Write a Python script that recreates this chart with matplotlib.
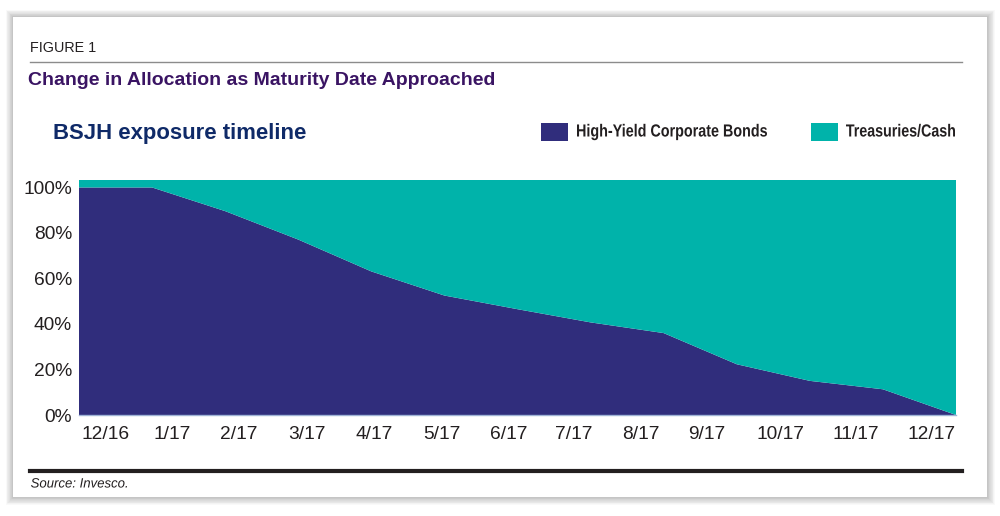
import matplotlib
matplotlib.use("Agg")
import matplotlib.pyplot as plt
from matplotlib.patches import Rectangle, PathPatch
from matplotlib.textpath import TextPath
from matplotlib.font_manager import FontProperties
from matplotlib.transforms import Affine2D

# ---- data ----
months = ["12/16", "1/17", "2/17", "3/17", "4/17", "5/17", "6/17",
          "7/17", "8/17", "9/17", "10/17", "11/17", "12/17"]
high_yield = [100, 100, 89.6, 77.1, 63.1, 52.5, 46.5, 40.7, 36.0, 22.3, 15.0, 11.3, 0]
treasuries = [3.5, 3.5, 13.9, 26.4, 40.4, 51.0, 57.0, 62.8, 67.5, 81.2, 88.5, 92.2, 103.5]
y_ticks = [0, 20, 40, 60, 80, 100]
y_tick_labels = ["0%", "20%", "40%", "60%", "80%", "100%"]
series_names = ["High-Yield Corporate Bonds", "Treasuries/Cash"]

# tick label placement (in month-index units), as in the original layout
tick_pos = [0.36, 1.27, 2.19, 3.12, 4.04, 4.96, 5.88, 6.77, 7.69, 8.59, 9.60, 10.63, 11.67]

NAVY = "#302d7c"
TEAL = "#00b3aa"
INK = "#231f20"

W, H = 1000, 516
fig = plt.figure(figsize=(W / 100, H / 100), dpi=100)
fig.patch.set_facecolor("white")

def fx(x):
    return x / W

def fy(y):
    return 1 - y / H

def narrow_text(s, x, y_base, width, font_px, weight="normal", style="normal"):
    """Text drawn as a horizontally condensed path (pixel coordinates)."""
    prop = FontProperties(family="Liberation Sans", weight=weight, style=style)
    tp = TextPath((0, 0), s, size=100, prop=prop)
    ext = tp.get_extents()
    sx = width / ext.width
    sy = font_px / 100.0
    tr = Affine2D().translate(-ext.x0, 0).scale(sx, sy).translate(x, H - y_base)
    patch = PathPatch(tr.transform_path(tp), facecolor=INK, edgecolor="none",
                      transform=None, zorder=4)
    fig.patches.append(patch)

# card shadow
for i in range(10, 0, -1):
    fig.patches.append(Rectangle((fx(13 - i * 0.7), fy(497 + i * 0.8)),
                                 fx(974 + i * 1.5), (480 + i * 1.5) / H,
                                 transform=fig.transFigure, facecolor="#000000",
                                 alpha=0.022, edgecolor="none", zorder=0))
fig.patches.append(Rectangle((fx(13), fy(497)), fx(974), 480 / H,
                             transform=fig.transFigure, facecolor="white",
                             edgecolor="none", zorder=1))

sans = ["Liberation Sans", "DejaVu Sans"]

fig.text(fx(30), fy(52), "FIGURE 1", fontsize=10.4, color=INK,
         family=sans, va="baseline", ha="left", zorder=3)
fig.add_artist(plt.Line2D([fx(30), fx(962)], [fy(61.5), fy(61.5)],
                          color="#8c8c8c", linewidth=1.0, zorder=3))
fig.text(fx(28), fy(85), "Change in Allocation as Maturity Date Approached",
         fontsize=14.0, fontweight="bold", color="#3a1463", family=sans,
         va="baseline", ha="left", zorder=3)
fig.text(fx(53), fy(139), "BSJH exposure timeline", fontsize=15.9,
         fontweight="bold", color="#0f2a68", family=sans, va="baseline",
         ha="left", zorder=3)

# legend
legend_layout = [(541, 577, 190, NAVY), (811, 846, 109, TEAL)]
for name, (x0, tx, tw, col) in zip(series_names, legend_layout):
    fig.patches.append(Rectangle((fx(x0), fy(141)), fx(27), 18 / H,
                                 transform=fig.transFigure, facecolor=col,
                                 edgecolor="none", zorder=3))
    narrow_text(name, tx, 136.5, tw, 17.5, weight="bold")

# plot area
left, right, top, bottom = 79, 956, 179.5, 415
ax = fig.add_axes([fx(left), fy(bottom), fx(right - left), (bottom - top) / H], zorder=2)
x = list(range(len(months)))
ax.stackplot(x, high_yield, treasuries, colors=[NAVY, TEAL], linewidth=0,
             labels=series_names)
ax.set_xlim(0, len(months) - 1)
ax.set_ylim(0, 103.5)
for s in ["top", "right", "left"]:
    ax.spines[s].set_visible(False)
ax.spines["bottom"].set_color("#9fb3d6")
ax.spines["bottom"].set_linewidth(1.0)
ax.set_yticks(y_ticks)
ax.set_yticklabels(y_tick_labels, fontsize=13.8, color=INK, family=sans)
ax.set_xticks(tick_pos)
ax.set_xticklabels(months, fontsize=13.8, color=INK, family=sans)
ax.tick_params(axis="both", length=0)
ax.tick_params(axis="y", pad=5)
ax.tick_params(axis="x", pad=8)

# bottom rule and source
fig.add_artist(plt.Line2D([fx(30), fx(962)], [fy(470.5), fy(470.5)],
                          color=INK, linewidth=3.0, zorder=3))
narrow_text("Source: Invesco.", 31, 487.5, 96, 13.5, style="italic")

fig.savefig("out.png", dpi=100, facecolor="white")
